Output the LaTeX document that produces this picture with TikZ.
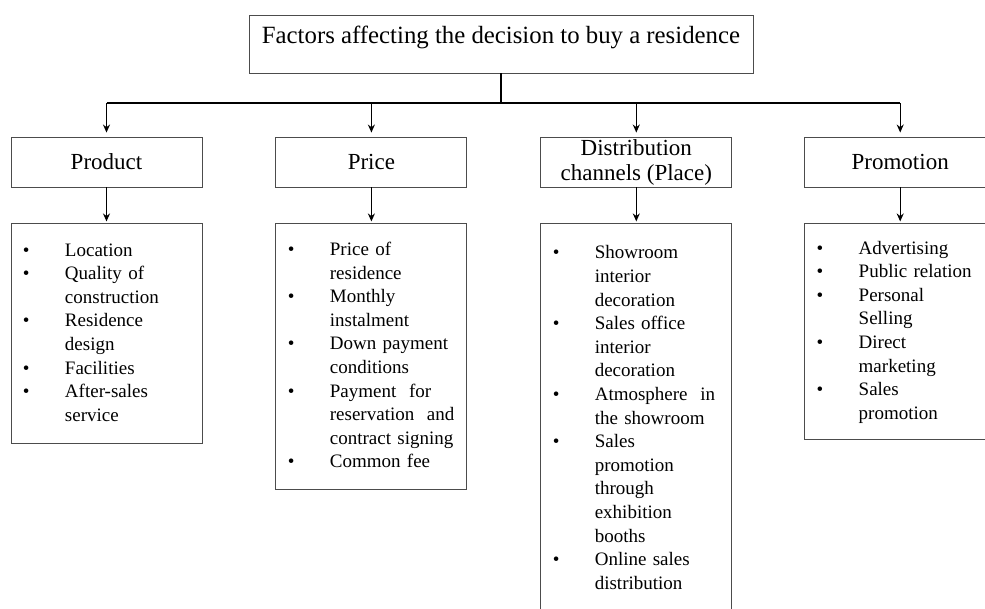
\documentclass[tikz,border=0pt]{standalone}
\usepackage{fontspec}
\setmainfont{Liberation Serif}
\usetikzlibrary{positioning,arrows.meta}
\newcommand{\bul}{\textbullet}
\newcommand{\itemlist}[1]{\begin{tabular}{@{}p{42pt}@{}l@{}}#1\end{tabular}}

\begin{document}
\begin{tikzpicture}[x=1pt, y=-1pt, >={Stealth[length=8pt, width=7pt]},
        box/.style={draw=black!70, line width=0.9pt, minimum width=191pt, inner sep=0pt},
        head/.style={box, minimum height=50pt, align=center, font=\fontsize{23}{25}\selectfont},
        list/.style={box, text width=167pt, inner xsep=12pt, align=left, font=\fontsize{19}{23.6}\selectfont},
        link/.style={line width=1.4pt}]
        \useasboundingbox (0,0) rectangle (985,608);
        \clip (0,0) rectangle (985,608);

        \node[box, minimum width=504pt, text height=28pt, text depth=30pt, font=\fontsize{24.8}{28}\selectfont] (title) at (501,44) {Factors affecting the decision to buy a residence};
        \coordinate (bus) at (501,103);

        \node[head] (product) at (106.5,162) {Product};
        \node[head, right=73pt of product] (price) {Price};
        \node[head, right=73pt of price] (distribution) {Distribution\\channels (Place)};
        \node[head, right=72pt of distribution] (promotion) {Promotion};

        \node[list, minimum height=220pt, below=36pt of product] (product-list) {\itemlist{
            \bul & Location\\
            \bul & Quality of\\
                 & construction\\
            \bul & Residence\\
                 & design\\
            \bul & Facilities\\
            \bul & After-sales\\
                 & service}};
        \node[list, minimum height=266pt, below=36pt of price] (price-list) {\itemlist{
            \bul & Price of\\
                 & residence\\
            \bul & Monthly\\
                 & instalment\\
            \bul & Down payment\\
                 & conditions\\
            \bul & Payment\ \ for\\
                 & reservation\ \ and\\
                 & contract\ signing\\
            \bul & Common fee}};
        \node[list, minimum height=414pt, below=36pt of distribution] (distribution-list) {\itemlist{
            \bul & Showroom\\
                 & interior\\
                 & decoration\\
            \bul & Sales office\\
                 & interior\\
                 & decoration\\
            \bul & Atmosphere\ \ in\\
                 & the showroom\\
            \bul & Sales\\
                 & promotion\\
                 & through\\
                 & exhibition\\
                 & booths\\
            \bul & Online sales\\
                 & distribution\rule[-30pt]{0pt}{0pt}}}; % box runs past the page edge
        \node[list, minimum height=216pt, below=36pt of promotion] (promotion-list) {\itemlist{
            \bul & Advertising\\
            \bul & Public relation\\
            \bul & Personal\\
                 & Selling\\
            \bul & Direct\\
                 & marketing\\
            \bul & Sales\\
                 & promotion}};

        \draw[link] (title) -- (title |- bus);
        \draw[link] (product |- bus) -- (promotion |- bus);
        \foreach \n in {product, price, distribution, promotion} {
            \draw[link, ->, shorten >=4pt] (\n |- bus) -- (\n);
            \draw[link, ->, shorten >=2pt] (\n) -- (\n-list);
        }
    \end{tikzpicture}
\end{document}
